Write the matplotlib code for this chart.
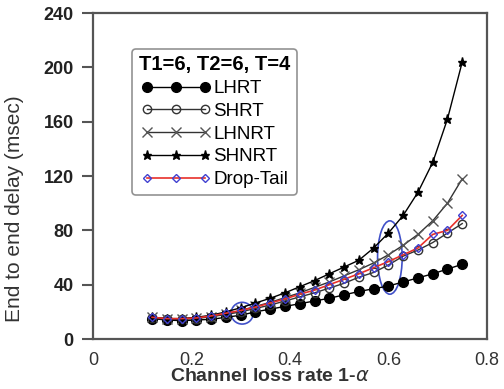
import matplotlib
matplotlib.use("Agg")
from matplotlib import pyplot as plt
from matplotlib.patches import Ellipse

plt.rcParams['font.family'] = ['Liberation Sans', 'DejaVu Sans']

loss = [0.12, 0.15, 0.18, 0.21, 0.24, 0.27, 0.30, 0.33, 0.36, 0.39, 0.42,
        0.45, 0.48, 0.51, 0.54, 0.57, 0.60, 0.63, 0.66, 0.69, 0.72, 0.75]
lhrt = [15, 14, 13.5, 14, 14.5, 16, 17.5, 20, 22, 24, 26,
        28, 30, 32.5, 35, 37, 39, 42, 45, 48, 51.5, 55]
shrt = [15.5, 14.5, 14.5, 15, 16.5, 18, 20, 22.5, 25, 28, 31,
        34, 37.5, 41, 45.5, 49, 54.5, 61, 65.5, 71, 78, 85]
lhnrt = [16, 15, 15, 15.5, 16.5, 18.5, 21, 24, 27, 30.5, 34,
         38, 42, 46.5, 51, 56, 62, 69, 77, 87, 100, 118]
shnrt = [16, 15, 15, 16, 17.5, 20, 23, 26.5, 30, 34, 38.5,
         43, 48, 53, 58, 67, 78, 91, 108, 130, 162, 204]
droptail = [16, 15, 15, 15.5, 17, 19, 21, 23.5, 26.5, 29.5, 33,
            36, 40, 44, 48, 52.5, 57, 62, 67, 77, 80, 91]

fig = plt.figure(figsize=(5.04, 3.89), dpi=100)
ax = fig.add_axes([0.1845, 0.1285, 0.7815, 0.838])

ax.plot(loss, lhrt, color='black', lw=1, marker='o', ms=7, label='LHRT')
ax.plot(loss, shrt, color='#333333', lw=1, marker='o', ms=6, mfc='none',
        mec='#333333', label='SHRT')
ax.plot(loss, lhnrt, color='#333333', lw=1, marker='x', ms=6.5, mec='#555555',
        label='LHNRT')
ax.plot(loss, shnrt, color='black', lw=1, marker='*', ms=6.5, label='SHNRT')
ax.plot(loss, droptail, color='#e8302a', lw=1.2, marker='D', ms=4.5, mfc='none',
        mec='#4040d0', mew=1, label='Drop-Tail')

# highlight circles
ax.add_patch(Ellipse((0.303, 19), 0.045, 16, fill=False, ec='#4050c8', lw=1.2))
ax.add_patch(Ellipse((0.603, 60), 0.05, 54, fill=False, ec='#4050c8', lw=1.2))

ax.set_xlim(0, 0.8)
ax.set_ylim(0, 240)
ax.set_xticks([0, 0.2, 0.4, 0.6, 0.8])
ax.set_xticklabels(['0', '0.2', '0.4', '0.6', '0.8'])
ax.set_yticks(range(0, 241, 40))

ax.tick_params(axis='x', length=0, pad=9, labelsize=13, labelcolor='#333333')
ax.tick_params(axis='y', direction='out', length=8, width=1.5, color='#555555',
               pad=6, labelsize=13, labelcolor='#222222')
for lab in ax.get_yticklabels():
    lab.set_fontweight('bold')
for sp in ax.spines.values():
    sp.set_color('#555555')
    sp.set_linewidth(1.6)

ax.set_xlabel('Channel loss rate 1-$\\alpha$', fontsize=14, fontweight='bold',
              color='#333333')
ax.xaxis.set_label_coords(0.45, -0.09)
ax.set_ylabel('End to end delay (msec)', fontsize=15, color='#333333')
ax.yaxis.set_label_coords(-0.175, 0.40)

leg = ax.legend(loc='upper left', bbox_to_anchor=(0.1, 0.89), numpoints=3,
                handlelength=3.7, handletextpad=0.15, labelspacing=0.3,
                fontsize=13.5, title='T1=6, T2=6, T=4', fancybox=True,
                borderpad=0.35, borderaxespad=0, frameon=True)
leg.get_title().set_fontweight('bold')
leg.get_title().set_fontsize(14.5)
leg.get_frame().set_edgecolor('#777777')
leg.get_frame().set_linewidth(1.2)

fig.savefig('out.png', dpi=100)
